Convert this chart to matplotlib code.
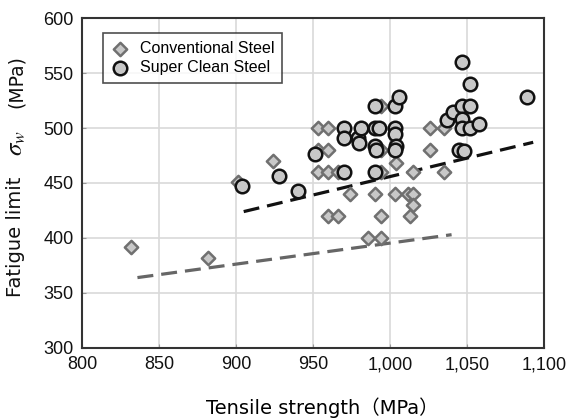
import numpy as np
import matplotlib.pyplot as plt

plt.rcParams['font.family'] = ['Liberation Sans', 'Noto Sans CJK JP']
plt.rcParams['mathtext.fontset'] = 'stix'

# Conventional steel (tensile strength, fatigue limit)
conv_ts = [832, 882, 901, 924,
           953, 960, 953, 960, 953, 960, 966,
           960, 966,
           974, 990, 1003, 1012, 1015, 1015, 1013, 994,
           986, 994,
           994, 994, 994, 1004, 1015,
           1026, 1035, 1026, 1035]
conv_fl = [392, 382, 451, 470,
           500, 500, 480, 480, 460, 460, 460,
           420, 420,
           440, 440, 440, 440, 440, 430, 420, 420,
           400, 400,
           520, 480, 460, 468, 460,
           500, 500, 480, 460]

# Super clean steel
sc_ts = [904, 928, 940, 951,
         970, 970, 970,
         979, 980, 981,
         990, 990, 993, 990, 991, 990,
         1003, 1006, 1003, 1003, 1004, 1003,
         1037, 1041, 1047, 1052, 1047, 1047, 1052, 1058,
         1047, 1052, 1045, 1048, 1089]
sc_fl = [447, 456, 443, 476,
         500, 491, 460,
         491, 486, 500,
         520, 500, 500, 484, 480, 460,
         520, 528, 500, 495, 484, 480,
         507, 515, 520, 520, 508, 500, 500, 504,
         560, 540, 480, 479, 528]

# trend lines (end points)
sc_line_x = [905, 1093]
sc_line_y = [424, 487]
conv_line_x = [836, 1040]
conv_line_y = [364, 403]

fig = plt.figure(figsize=(5.68, 4.19), dpi=100)
ax = fig.add_axes([0.1444, 0.1695, 0.8133, 0.7875])

ax.grid(True, color='#d9d9d9', linewidth=1.2, zorder=0)
ax.set_axisbelow(True)

ax.plot(conv_line_x, conv_line_y, color='#666666', linewidth=2.3,
        dashes=(5, 2.5), zorder=2)
ax.plot(sc_line_x, sc_line_y, color='#111111', linewidth=2.3,
        dashes=(5, 2.5), zorder=2)

ax.scatter(conv_ts, conv_fl, marker='D', s=46, facecolor='#c8c8c8',
           edgecolor='#707070', linewidth=1.8, zorder=3, label='Conventional Steel')
ax.scatter(sc_ts, sc_fl, marker='o', s=95, facecolor='#c8c8c8',
           edgecolor='#111111', linewidth=1.8, zorder=4, label='Super Clean Steel')

ax.set_xlim(800, 1100)
ax.set_ylim(300, 600)
ax.set_xticks(np.arange(800, 1101, 50))
ax.set_xticklabels(['800', '850', '900', '950', '1,000', '1,050', '1,100'])
ax.set_yticks(np.arange(300, 601, 50))
ax.tick_params(direction='in', length=3, color='#999999', labelsize=13,
               labelcolor='#111111', pad=6)

for sp in ax.spines.values():
    sp.set_color('#333333')
    sp.set_linewidth(1.5)

lab_font = ['DejaVu Sans', 'Noto Sans CJK JP']
ax.set_xlabel('Tensile strength（MPa）', fontsize=14, family=lab_font)
ax.xaxis.set_label_coords(0.52, -0.15)

# y label in three pieces so the sigma can be bigger
fig.text(0.028, 1 - 237 / 419, 'Fatigue limit', rotation=90, fontsize=14,
         family='DejaVu Sans', ha='center', va='center', color='#111111')
fig.text(0.028, 1 - 143 / 419, r'$\sigma_w$', rotation=90, fontsize=18,
         ha='center', va='center', color='#111111')
fig.text(0.028, 1 - 82 / 419, '(MPa)', rotation=90, fontsize=13.5,
         family='DejaVu Sans', ha='center', va='center', color='#111111')

leg = ax.legend(loc='upper left', bbox_to_anchor=(0.045, 0.955),
                borderaxespad=0, fontsize=11.5, fancybox=False,
                edgecolor='#222222', handletextpad=0.6, borderpad=0.5,
                labelspacing=0.25, handlelength=1.2)
leg.get_frame().set_linewidth(1.2)

fig.savefig('out.png', dpi=100)
